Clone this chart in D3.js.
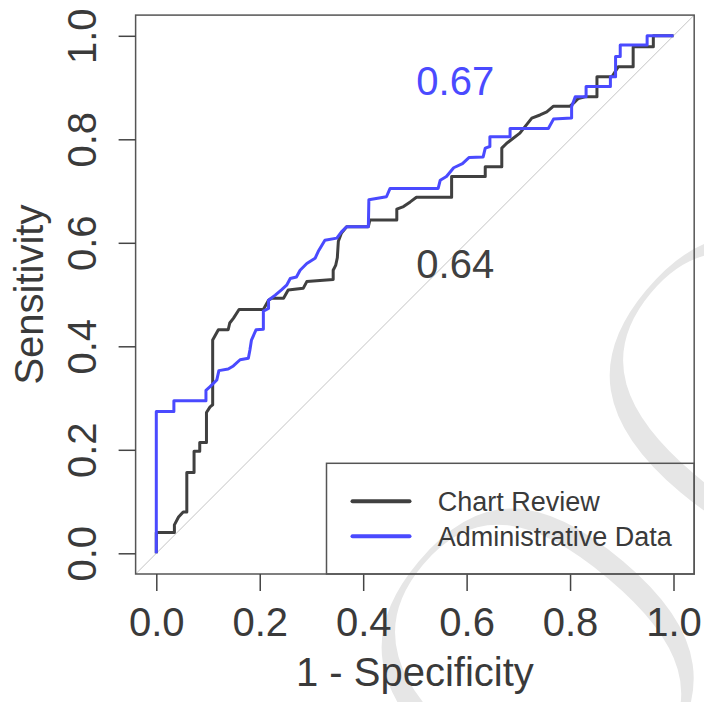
<!DOCTYPE html>
<html>
<head>
<meta charset="utf-8">
<script src="https://cdn.jsdelivr.net/npm/d3@7"></script>
<style>
body { margin: 0; background: #fff; }
text { font-family: "Liberation Sans", Arial, sans-serif; }
</style>
</head>
<body>
<div id="chart"></div>
<script>
// ROC curve vertices (1 - specificity, sensitivity)
var chartFpr = [0, 0, 0.035, 0.035, 0.043, 0.052, 0.059, 0.059, 0.073, 0.073, 0.084, 0.084, 0.097, 0.097, 0.104, 0.109, 0.109, 0.120, 0.139, 0.142, 0.149, 0.160, 0.207, 0.217, 0.223, 0.246, 0.255, 0.284, 0.291, 0.342, 0.342, 0.347, 0.350, 0.352, 0.358, 0.368, 0.410, 0.413, 0.465, 0.465, 0.478, 0.491, 0.503, 0.571, 0.571, 0.636, 0.636, 0.668, 0.668, 0.677, 0.703, 0.726, 0.742, 0.755, 0.768, 0.800, 0.810, 0.816, 0.829, 0.852, 0.852, 0.881, 0.893, 0.922, 0.922, 0.961, 0.961, 1.0];
var chartTpr = [0, 0.040, 0.040, 0.055, 0.070, 0.080, 0.080, 0.156, 0.156, 0.197, 0.197, 0.214, 0.214, 0.272, 0.283, 0.287, 0.412, 0.432, 0.432, 0.445, 0.454, 0.471, 0.471, 0.489, 0.493, 0.493, 0.509, 0.512, 0.525, 0.529, 0.547, 0.557, 0.571, 0.603, 0.619, 0.631, 0.631, 0.644, 0.644, 0.665, 0.670, 0.679, 0.688, 0.688, 0.728, 0.728, 0.747, 0.747, 0.783, 0.792, 0.812, 0.841, 0.847, 0.853, 0.864, 0.864, 0.873, 0.879, 0.882, 0.882, 0.921, 0.921, 0.940, 0.940, 0.979, 0.979, 1.0, 1.0];

var adminFpr = [0, 0, 0.034, 0.034, 0.096, 0.096, 0.104, 0.117, 0.121, 0.139, 0.149, 0.162, 0.178, 0.181, 0.184, 0.193, 0.207, 0.207, 0.217, 0.217, 0.230, 0.242, 0.252, 0.259, 0.271, 0.278, 0.291, 0.307, 0.313, 0.326, 0.349, 0.358, 0.368, 0.410, 0.411, 0.445, 0.452, 0.545, 0.549, 0.561, 0.575, 0.592, 0.605, 0.632, 0.636, 0.645, 0.645, 0.684, 0.684, 0.758, 0.768, 0.803, 0.803, 0.810, 0.831, 0.831, 0.878, 0.878, 0.888, 0.888, 0.897, 0.897, 0.949, 0.949, 1.0];
var adminTpr = [0, 0.274, 0.274, 0.295, 0.295, 0.315, 0.322, 0.335, 0.353, 0.356, 0.362, 0.374, 0.377, 0.393, 0.412, 0.432, 0.433, 0.468, 0.473, 0.489, 0.499, 0.509, 0.518, 0.531, 0.534, 0.547, 0.560, 0.570, 0.583, 0.605, 0.609, 0.621, 0.631, 0.631, 0.683, 0.689, 0.705, 0.705, 0.721, 0.728, 0.745, 0.753, 0.765, 0.766, 0.783, 0.786, 0.805, 0.805, 0.821, 0.821, 0.839, 0.841, 0.863, 0.882, 0.882, 0.902, 0.902, 0.921, 0.921, 0.960, 0.960, 0.982, 0.982, 1.0, 1.0];

var seriesNames = ["Chart Review", "Administrative Data"];
var seriesColors = ["#404040", "#4a4aff"];
var aucLabels = ["0.64", "0.67"];
var aucPos = [[0.578, 0.559], [0.578, 0.913]];
var tickValues = [0, 0.2, 0.4, 0.6, 0.8, 1.0];

var width = 704, height = 702;

var svg = d3.select("#chart").append("svg")
    .attr("width", width).attr("height", height);

var x = d3.scaleLinear().domain([0, 1]).range([156.3, 673.5]);
var y = d3.scaleLinear().domain([0, 1]).range([553.3, 35.8]);

// watermark, thinned with a white stroke painted over the fill
svg.append("text")
    .attr("transform", "translate(143,1396) rotate(-50)")
    .attr("font-size", 638)
    .attr("fill", "#e6e6e6")
    .attr("stroke", "#fff").attr("stroke-width", 36)
    .attr("stroke-linejoin", "round")
    .text("Proof");

// diagonal reference line, corner to corner of the box
svg.append("line")
    .attr("x1", x(-0.04)).attr("y1", y(-0.04))
    .attr("x2", x(1.04)).attr("y2", y(1.04))
    .attr("stroke", "#c4c4c4").attr("stroke-width", 1);

var line = d3.line().x(function(d){ return x(d[0]) }).y(function(d){ return y(d[1]) });

var curves = [d3.zip(chartFpr, chartTpr), d3.zip(adminFpr, adminTpr)];
curves.forEach(function(pts, i){
    svg.append("path").datum(pts)
    .attr("d", line).attr("fill", "none")
    .attr("stroke", seriesColors[i]).attr("stroke-width", 3)
    .attr("stroke-linejoin", "round")
});

// plot box
svg.append("rect")
    .attr("x", x(-0.04)).attr("y", y(1.04))
    .attr("width", x(1.04) - x(-0.04)).attr("height", y(-0.04) - y(1.04))
    .attr("fill", "none").attr("stroke", "#555").attr("stroke-width", 1.5);

// axes
var xAxis = svg.append("g")
    .attr("transform", "translate(0," + y(-0.04) + ")")
    .call(d3.axisBottom(x).tickValues(tickValues).tickSize(17).tickFormat(d3.format(".1f")));
var yAxis = svg.append("g")
    .attr("transform", "translate(" + x(-0.04) + ",0)")
    .call(d3.axisLeft(y).tickValues(tickValues).tickSize(17).tickFormat(d3.format(".1f")));

[xAxis, yAxis].forEach(function(g){
    g.select(".domain").remove();
    g.selectAll("line").attr("stroke", "#444").attr("stroke-width", 1.5);
    g.selectAll("text").attr("font-size", 40).attr("fill", "#3a3a3a")
        .attr("font-family", "'Liberation Sans', Arial, sans-serif");
});
xAxis.selectAll("text").attr("y", 62).attr("dy", 0);
yAxis.selectAll("text").attr("x", 0).attr("dy", 0)
    .attr("text-anchor", "middle")
    .attr("transform", "translate(-40,0) rotate(-90)");

// axis titles
svg.append("text")
    .attr("x", x(0.5)).attr("y", 686)
    .attr("text-anchor", "middle").attr("font-size", 40).attr("fill", "#3a3a3a")
    .text("1 - Specificity");
svg.append("text")
    .attr("transform", "translate(43," + y(0.5) + ") rotate(-90)")
    .attr("text-anchor", "middle").attr("font-size", 40).attr("fill", "#3a3a3a")
    .text("Sensitivity");

// AUC labels
aucLabels.forEach(function(t, i){
    svg.append("text")
    .attr("x", x(aucPos[i][0])).attr("y", y(aucPos[i][1]))
    .attr("dy", "0.35em")
    .attr("text-anchor", "middle").attr("font-size", 40)
    .attr("fill", seriesColors[i])
    .text(t)
});

// legend
var legend = svg.append("g");
legend.append("rect")
    .attr("x", 326.5).attr("y", 463.3)
    .attr("width", x(1.04) - 326.5).attr("height", y(-0.04) - 463.3)
    .attr("fill", "none").attr("stroke", "#555").attr("stroke-width", 1.5);
seriesNames.forEach(function(name, i){
    var ly = 501.3 + i * 35;
    legend.append("line")
    .attr("x1", 352.5).attr("x2", 409.5).attr("y1", ly).attr("y2", ly)
    .attr("stroke", seriesColors[i]).attr("stroke-width", 4)
    .attr("stroke-linecap", "round");
    legend.append("text")
    .attr("x", 437.8).attr("y", ly).attr("dy", "0.35em")
    .attr("font-size", 27).attr("fill", "#3a3a3a")
    .text(name);
});
</script>
</body>
</html>
